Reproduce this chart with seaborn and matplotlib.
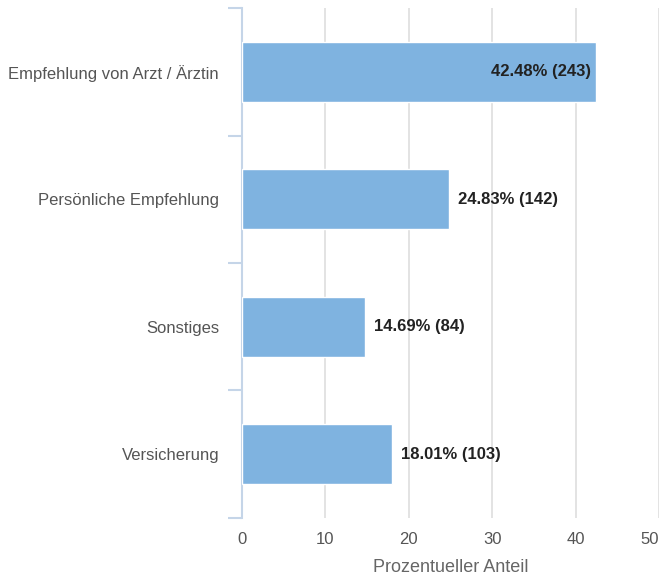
import numpy as np
import pandas as pd
import seaborn as sns
import matplotlib.pyplot as plt
from matplotlib.ticker import FixedLocator

# Data
categories = ["Empfehlung von Arzt / Ärztin", "Persönliche Empfehlung", "Sonstiges", "Versicherung"]
percent = [42.48, 24.83, 14.69, 18.01]
counts = [243, 142, 84, 103]

df = pd.DataFrame({"Kategorie": categories, "Anteil": percent, "n": counts})

sns.set_style("white")
plt.rcParams["font.family"] = ["Liberation Sans", "DejaVu Sans"]

fig = plt.figure(figsize=(6.61, 5.78), dpi=100)
ax = fig.add_axes([242 / 661, 0.104, (659 - 242) / 661, 0.882])

sns.barplot(data=df, x="Anteil", y="Kategorie", color="#7fb3e0", width=0.47,
            saturation=1, ax=ax, zorder=3)

# vertical grid lines only
ax.set_xlim(0, 50)
ax.set_xticks([0, 10, 20, 30, 40, 50])
ax.grid(axis="x", color="#e0e0e0", linewidth=1.3, zorder=0)
ax.set_ylim(len(categories) - 0.5, -0.5)

# spines: only a light blue left one
for s in ["top", "right", "bottom"]:
    ax.spines[s].set_visible(False)
ax.spines["left"].set_color("#c5d5e8")
ax.spines["left"].set_linewidth(1.5)

# tick marks between categories on the left side
ax.yaxis.set_minor_locator(FixedLocator(np.arange(-0.5, len(categories), 1)))
ax.tick_params(axis="y", which="minor", length=10, width=1.5, color="#c5d5e8", left=True)
ax.tick_params(axis="y", which="major", length=0, pad=16.5, labelsize=12, labelcolor="#555555")
ax.tick_params(axis="x", length=0, pad=10, labelsize=12, labelcolor="#555555")

# last x label would be cut at the edge -> right align it
fig.canvas.draw()
ax.get_xticklabels()[-1].set_horizontalalignment("right")

ax.set_ylabel("")
ax.set_xlabel("Prozentueller Anteil", fontsize=13, color="#666666", labelpad=9)

# value labels
for i, (p, n) in enumerate(zip(percent, counts)):
    txt = f"{p:.2f}% ({n})"
    if p > 40:
        ax.annotate(txt, (p, i), xytext=(-4, 0), textcoords="offset points",
                    ha="right", va="center", fontsize=12, fontweight="bold", color="#222222", zorder=4)
    else:
        ax.annotate(txt, (p, i), xytext=(6.5, 0), textcoords="offset points",
                    ha="left", va="center", fontsize=12, fontweight="bold", color="#222222", zorder=4)

fig.savefig("out.png", dpi=100)
